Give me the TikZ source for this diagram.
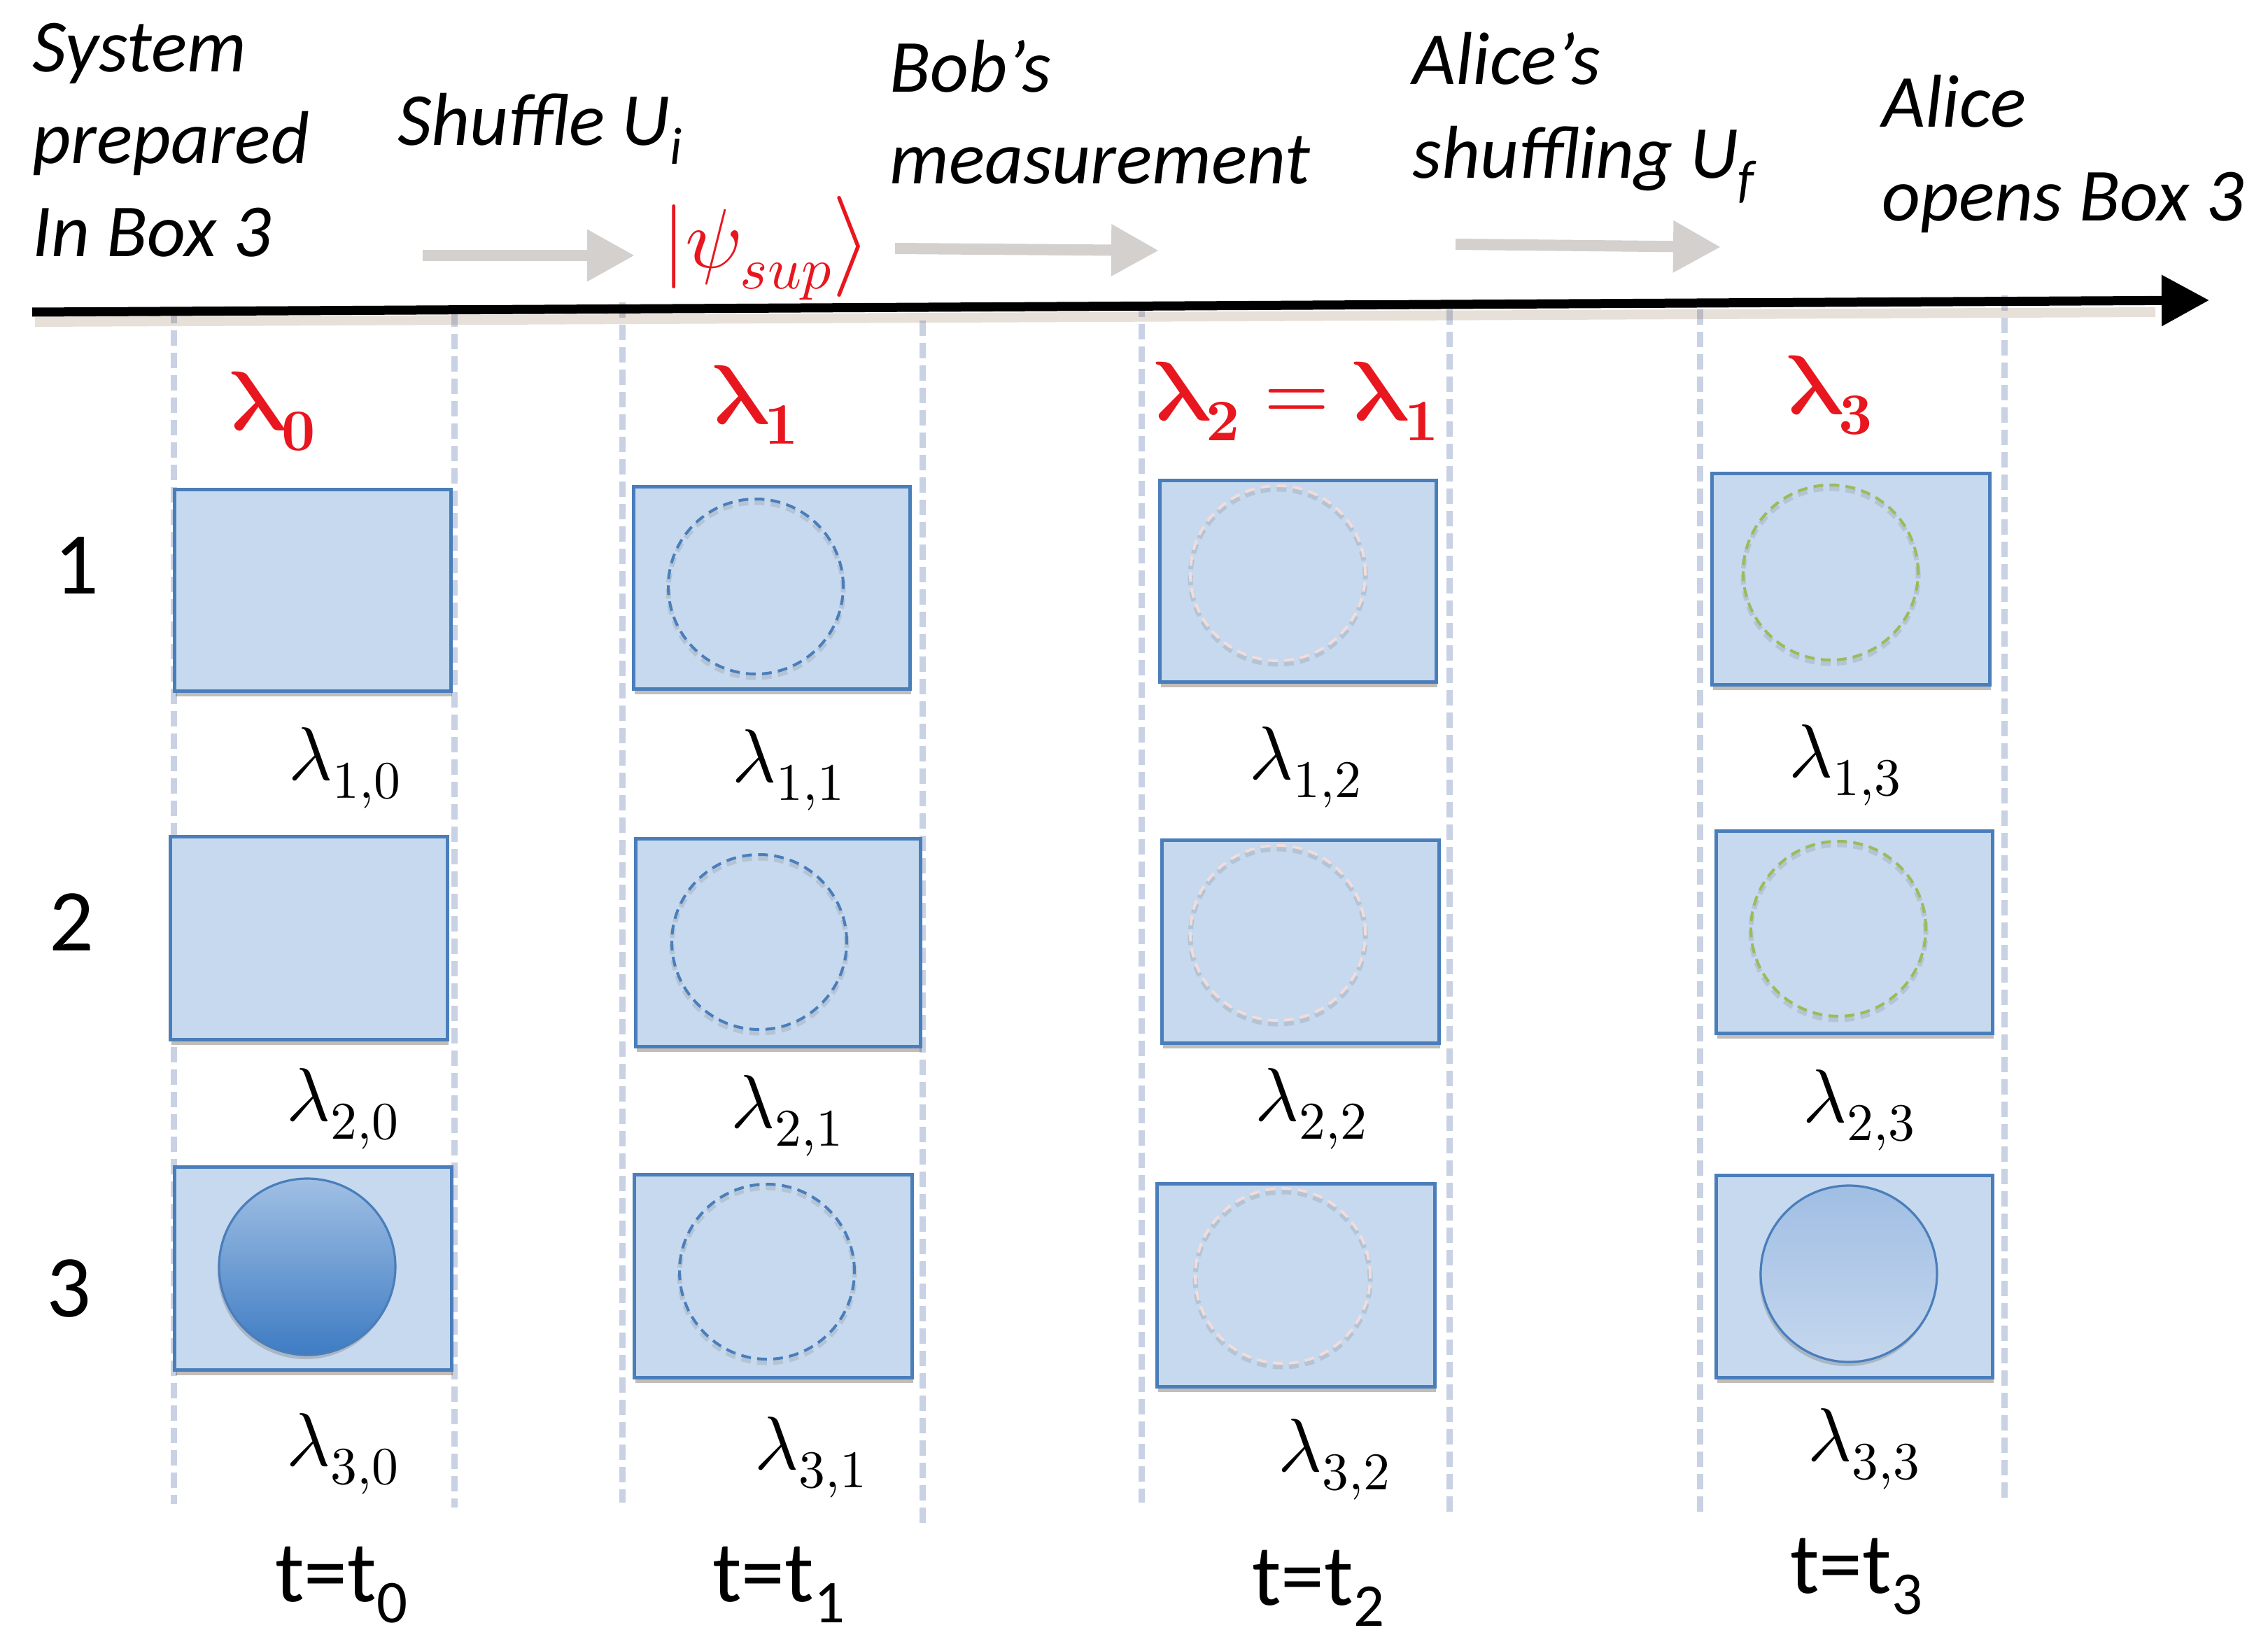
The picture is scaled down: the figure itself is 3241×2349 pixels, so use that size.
\documentclass[tikz,border=0pt]{standalone}
\usepackage{fontspec}
\usepackage{unicode-math}
\setmainfont{Carlito}
\setmathfont{Latin Modern Math}
\usetikzlibrary{arrows.meta,shadows}
\definecolor{boxfill}{HTML}{C6D9EE}
\definecolor{boxline}{HTML}{4A7EBB}
\definecolor{vcol}{HTML}{C9D1E4}
\definecolor{agrey}{HTML}{D3D0CE}
\definecolor{redc}{HTML}{E8161E}
\definecolor{pinkc}{HTML}{F2DCDB}
\definecolor{greenc}{HTML}{9BBB59}
\begin{document}
\begin{tikzpicture}[x=0.5pt,y=-0.5pt,
  ttl/.style={font=\fontsize{53.5}{62}\selectfont\itshape, anchor=base west, inner sep=0},
  rowlbl/.style={font=\fontsize{63}{70}\selectfont, anchor=base, inner sep=0},
  tlbl/.style={font=\fontsize{62}{70}\selectfont, anchor=base west, inner sep=0},
  lam/.style={font=\fontsize{54}{60}\selectfont, anchor=base west, inner sep=0},
  rlam/.style={font=\fontsize{60}{70}\selectfont, text=redc, anchor=base west, inner sep=0},
  vline/.style={draw=vcol, line width=4.5pt, dash pattern=on 11pt off 5pt},
  axisline/.style={draw=black, line width=6.5pt, -{Triangle[length=34pt,width=35pt]}},
  garrow/.style={draw=agrey, line width=8pt, -{Triangle[length=34pt,width=35pt]}},
  box/.style={draw=boxline, fill=boxfill, line width=2.5pt, anchor=north west, inner sep=0,
    drop shadow={shadow xshift=0.5pt, shadow yshift=-3.5pt, opacity=0.3, fill=black!70!brown}},
  ghost/.style={circle, inner sep=0, minimum size=125pt, line width=2pt, dash pattern=on 7pt off 4.5pt,
    preaction={draw=black!60, opacity=0.18, line width=3.5pt, transform canvas={yshift=-2.5pt}}},
  ball/.style={circle, inner sep=0, minimum size=126pt, draw=boxline, line width=1.6pt,
    drop shadow={shadow xshift=-1pt, shadow yshift=-3pt, opacity=0.3, fill=black!60}}
]
\useasboundingbox (0,0) rectangle (3241,2349);

% vertical dashed guide lines
\coordinate (v0Lt) at (248,440);  \coordinate (v0Lb) at (248,2149);
\coordinate (v0Rt) at (649,445);  \coordinate (v0Rb) at (649,2154);
\coordinate (v1Lt) at (889,432);  \coordinate (v1Lb) at (889,2147);
\coordinate (v1Rt) at (1318,458); \coordinate (v1Rb) at (1318,2176);
\coordinate (v2Lt) at (1631,431); \coordinate (v2Lb) at (1631,2147);
\coordinate (v2Rt) at (2071,442); \coordinate (v2Rb) at (2071,2161);
\coordinate (v3Lt) at (2429,442); \coordinate (v3Lb) at (2429,2164);
\coordinate (v3Rt) at (2864,422); \coordinate (v3Rb) at (2864,2140);
\foreach \v in {v0L,v0R,v1L,v1R,v2L,v2R,v3L,v3R}
  \draw[vline] (\v t) -- (\v b);

% time axis
\coordinate (axL) at (46,446);
\coordinate (axR) at (3157,429);
\coordinate (axLs) at (50,460);
\coordinate (axRs) at (3080,446);
\draw[line width=7pt, black!35!brown, opacity=0.18] (axLs) -- (axRs);
\draw[axisline] (axL) -- (axR);

% grey process arrows
\coordinate (g1s) at (604,365);  \coordinate (g1e) at (907,365);
\coordinate (g2s) at (1279,355); \coordinate (g2e) at (1656,358);
\coordinate (g3s) at (2080,349); \coordinate (g3e) at (2459,353);
\draw[garrow] (g1s) -- (g1e);
\draw[garrow] (g2s) -- (g2e);
\draw[garrow] (g3s) -- (g3e);

% titles
\node[ttl] (sys1) at (46,103) {System};
\node[ttl] (sys2) at (46,234) {prepared};
\node[ttl] (sys3) at (46,366) {In Box 3};
\node[ttl] (shuf) at (568,208) {Shuffle U\textsubscript{i}};
\node[ttl] (bob1) at (1271,132) {Bob’s};
\node[ttl] (bob2) at (1271,263) {measurement};
\node[ttl] (ali1) at (2018,121) {Alice’s};
\node[ttl] (ali2) at (2018,255) {shuffling U\textsubscript{f}};
\node[ttl] (opn1) at (2689,182) {Alice};
\node[ttl] (opn2) at (2689,315) {opens Box 3};
\node[lam, font=\fontsize{60}{66}\selectfont, text=redc] (psi) at (946,383) {$\lvert\psi_{sup}\big\rangle$};

% red hidden-variable labels
\node[rlam] (L0) at (328,614) {$\symbfup{\lambda}_{\symbfup{0}}$};
\node[rlam] (L1) at (1018,605) {$\symbfup{\lambda}_{\symbfup{1}}$};
\node[rlam] (L2) at (1649,600) {$\symbfup{\lambda}_{\symbfup{2}}=\symbfup{\lambda}_{\symbfup{1}}$};
\node[rlam] (L3) at (2553,591) {$\symbfup{\lambda}_{\symbfup{3}}$};

% row labels
\node[rowlbl] (r1) at (109,848) {1};
\node[rowlbl] (r2) at (102,1358) {2};
\node[rowlbl] (r3) at (98,1881) {3};

% boxes
\node[box, minimum width=197.5pt, minimum height=144pt] (b10) at (247,697) {};
\node[box, minimum width=198pt, minimum height=145pt] (b20) at (241,1193) {};
\node[box, minimum width=198pt, minimum height=145pt] (b30) at (247,1665) {};
\node[box, minimum width=197.5pt, minimum height=144.5pt] (b11) at (903,693) {};
\node[box, minimum width=203.5pt, minimum height=148.5pt] (b21) at (906,1196) {};
\node[box, minimum width=198.5pt, minimum height=145pt] (b31) at (904,1676) {};
\node[box, minimum width=197.5pt, minimum height=144pt] (b12) at (1655,684) {};
\node[box, minimum width=198pt, minimum height=145pt] (b22) at (1658,1198) {};
\node[box, minimum width=198.5pt, minimum height=145pt] (b32) at (1651,1689) {};
\node[box, minimum width=198.5pt, minimum height=151pt] (b13) at (2444,674) {};
\node[box, minimum width=197.5pt, minimum height=144.5pt] (b23) at (2450,1185) {};
\node[box, minimum width=197.5pt, minimum height=144.5pt] (b33) at (2450,1677) {};

% balls and dashed (possible) positions
\node[ball, top color={rgb,255:red,160;green,191;blue,228}, bottom color={rgb,255:red,62;green,124;blue,195}] (ball30) at (439,1810) {};
\node[ghost, draw=boxline] (c11) at (1080,838) {};
\node[ghost, draw=boxline] (c21) at (1085,1346) {};
\node[ghost, draw=boxline] (c31) at (1096,1817) {};
\node[ghost, draw=pinkc] (c12) at (1826,819) {};
\node[ghost, draw=pinkc] (c22) at (1826,1333) {};
\node[ghost, draw=pinkc] (c32) at (1833,1823) {};
\node[ghost, draw=greenc] (c13) at (2616,818) {};
\node[ghost, draw=greenc] (c23) at (2627,1327) {};
\node[ball, top color={rgb,255:red,160;green,190;blue,227}, bottom color={rgb,255:red,197;green,215;blue,238}] (ball33) at (2642,1820) {};

% lambda_{i,j} labels
\node[lam] (l10) at (412,1114) {$\lambda_{1,0}$};
\node[lam] (l11) at (1046,1117) {$\lambda_{1,1}$};
\node[lam] (l12) at (1785,1113) {$\lambda_{1,2}$};
\node[lam] (l13) at (2556,1110) {$\lambda_{1,3}$};
\node[lam] (l20) at (409,1601) {$\lambda_{2,0}$};
\node[lam] (l21) at (1044,1611) {$\lambda_{2,1}$};
\node[lam] (l22) at (1793,1601) {$\lambda_{2,2}$};
\node[lam] (l23) at (2576,1603) {$\lambda_{2,3}$};
\node[lam] (l30) at (409,2094) {$\lambda_{3,0}$};
\node[lam] (l31) at (1078,2099) {$\lambda_{3,1}$};
\node[lam] (l32) at (1826,2102) {$\lambda_{3,2}$};
\node[lam] (l33) at (2583,2087) {$\lambda_{3,3}$};

% time labels
\node[tlbl] (t0) at (393,2288) {t=t\textsubscript{0}};
\node[tlbl] (t1) at (1018,2288) {t=t\textsubscript{1}};
\node[tlbl] (t2) at (1789,2293) {t=t\textsubscript{2}};
\node[tlbl] (t3) at (2558,2276) {t=t\textsubscript{3}};
\end{tikzpicture}
\end{document}
